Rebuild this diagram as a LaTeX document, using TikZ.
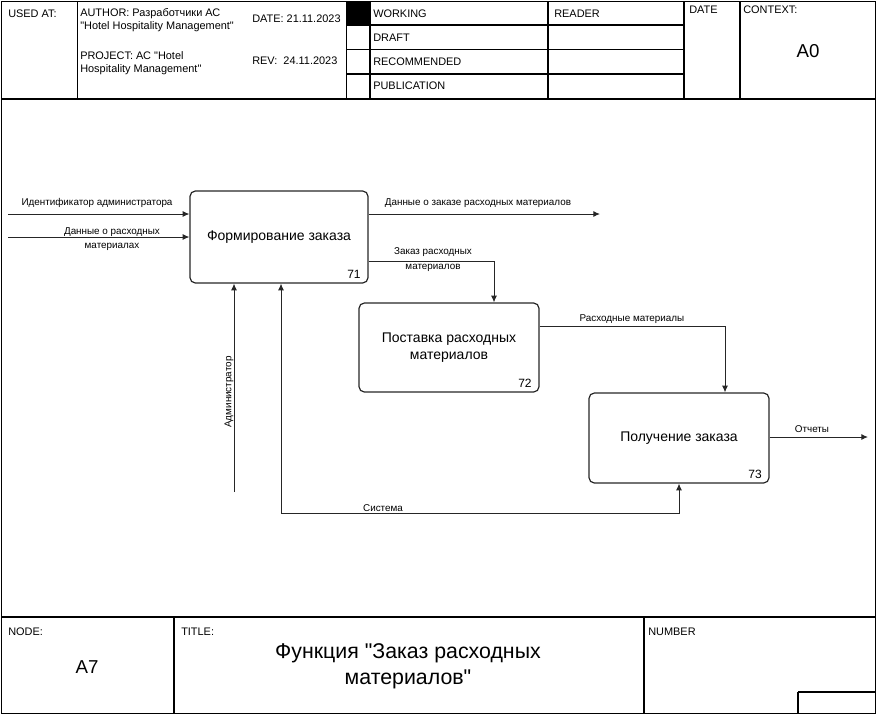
\documentclass[tikz,border=0pt]{standalone}
\usepackage{fontspec}
\setmainfont{Liberation Sans}
\newfontfamily\plainquote{Liberation Sans}
\usetikzlibrary{arrows.meta}

\newcommand{\dq}{{\plainquote\symbol{34}}}

\tikzset{
  frame/.style={line width=0.9pt},
  proc/.style={draw=black!85, line width=0.9pt, rounded corners=4pt, align=center,
    inner sep=0pt, font=\fontsize{10.5}{13}\selectfont},
  num/.style={anchor=south east, inner sep=0.75pt, font=\fontsize{9}{11}\selectfont},
  arr/.style={draw=black!85, line width=0.75pt, -{Latex[length=5pt,width=4.5pt]}},
  lbl/.style={inner sep=0.75pt, font=\fontsize{7.4}{11}\selectfont, align=center},
  hdr/.style={anchor=north west, inner sep=0.75pt, font=\fontsize{8.2}{10}\selectfont, align=left},
}

\begin{document}
\begin{tikzpicture}[x=0.75pt,y=0.75pt,yscale=-1,xscale=1]
\useasboundingbox (0,0) rectangle (877,715);

%Shape: outer frame and header / footer grid
\draw[frame] (1.5,1.5) rectangle (875.5,713.5);
\draw[frame] (1.5,99) -- (875.5,99);
\draw[frame] (1.5,617) -- (875.5,617);
\draw[frame] (77.5,1.5) -- (77.5,99);
\draw[frame] (346.5,1.5) -- (346.5,99);
\draw[frame] (370,1.5) -- (370,99);
\draw[frame] (548,1.5) -- (548,99);
\draw[frame] (684,1.5) -- (684,99);
\draw[frame] (740,1.5) -- (740,99);
\draw[frame] (346.5,25) -- (684,25);
\draw[frame] (346.5,49.5) -- (684,49.5);
\draw[frame] (346.5,74) -- (684,74);
\fill (346.5,1.5) rectangle (370,25);
\draw[frame] (174,617) -- (174,713.5);
\draw[frame] (644,617) -- (644,713.5);
\draw[frame] (798,692) -- (875.5,692) (798,692) -- (798,713.5);

% Text Node
\node[hdr] (usedat) at (7,9) {USED AT:};
\node[hdr] (author) at (79,7) {AUTHOR: Разработчики АС\\\dq Hotel Hospitality Management\dq};
\node[hdr] (project) at (79,50) {PROJECT: АС \dq Hotel\\Hospitality Management\dq};
\node[hdr] (date) at (251,14) {DATE: 21.11.2023};
\node[hdr] (rev) at (251,56) {REV:\ \ 24.11.2023};
\node[hdr] (working) at (372,9) {WORKING};
\node[hdr] (draft) at (372,33) {DRAFT};
\node[hdr] (recom) at (372,57) {RECOMMENDED};
\node[hdr] (publ) at (372,81) {PUBLICATION};
\node[hdr] (reader) at (553,9) {READER};
\node[hdr] (datecol) at (688,5) {DATE};
\node[hdr] (context) at (742,5) {CONTEXT:};
\node[inner sep=0pt, font=\fontsize{14}{16}\selectfont] (ctx) at (808,51) {A0};

% Text Node
\node[hdr] (nodelbl) at (7,627) {NODE:};
\node[inner sep=0pt, font=\fontsize{14}{16}\selectfont] (nodeval) at (87,667) {A7};
\node[hdr] (titlelbl) at (180,627) {TITLE:};
\node[inner sep=0pt, align=center, font=\fontsize{16}{19.5}\selectfont] (title) at (408,666) {Функция \dq Заказ расходных\\материалов\dq};
\node[hdr] (numlbl) at (647,627) {NUMBER};

%Shape: function blocks
\node[proc, minimum width=133.5pt, minimum height=69pt] (A71) at (279,237) {Формирование заказа};
\node[num] (n71) at ([xshift=-5pt,yshift=-3pt]A71.south east) {71};
\node[proc, minimum width=135pt, minimum height=66.75pt] (A72) at (449,347.5) {Поставка расходных\\материалов};
\node[num] (n72) at ([xshift=-5pt,yshift=-3pt]A72.south east) {72};
\node[proc, minimum width=135pt, minimum height=67.5pt] (A73) at (679,438) {Получение заказа};
\node[num] (n73) at ([xshift=-5pt,yshift=-3pt]A73.south east) {73};

% free ends and bends
\coordinate (in1) at (8,214);
\coordinate (in2) at (8,237);
\coordinate (out1) at (600,214);
\coordinate (bend1) at (494,261);
\coordinate (bend2) at (725,326);
\coordinate (out2) at (868,437);
\coordinate (mech1) at (234,492);
\coordinate (sys1) at (281,513);
\coordinate (sys2) at (679,513);

% Arrows
\draw[arr] (in1) -- (in1 -| A71.west);
\draw[arr] (in2) -- (in2 -| A71.west);
\draw[arr] (out1 -| A71.east) -- (out1);
\draw[arr] (bend1 -| A71.east) -- (bend1) -- (bend1 |- A72.north);
\draw[arr] (bend2 -| A72.east) -- (bend2) -- (bend2 |- A73.north);
\draw[arr] (out2 -| A73.east) -- (out2);
\draw[arr] (mech1) -- (mech1 |- A71.south);
\draw[arr] (sys1) -- (sys1 |- A71.south);
\draw[arr] (sys1) -- (sys2) -- (sys2 |- A73.south);

% Arrow labels
\node[lbl] (t1) at (97,203) {Идентификатор администратора};
\node[lbl] (t2) at (112,239) {Данные о расходных\\материалах};
\node[lbl] (t3) at (478,203) {Данные о заказе расходных материалов};
\node[lbl] (t4) at (433,259.5) {Заказ расходных\\материалов};
\node[lbl] (t5) at (632,319) {Расходные материалы};
\node[lbl] (t6) at (812,429) {Отчеты};
\node[lbl, rotate=90] (t7) at (229,392) {Администратор};
\node[lbl] (t8) at (383,508) {Система};

\end{tikzpicture}
\end{document}
